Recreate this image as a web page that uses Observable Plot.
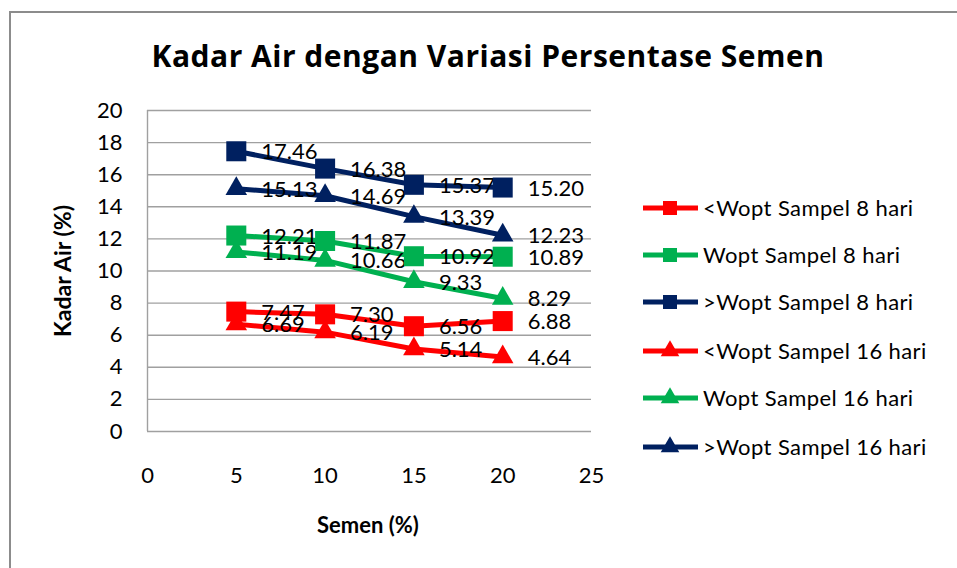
<!DOCTYPE html>
<html>
<head>
<meta charset="utf-8">
<script src="https://cdn.jsdelivr.net/npm/d3@7"></script>
<script src="https://cdn.jsdelivr.net/npm/@observablehq/plot@0.6"></script>
<style>
  html, body { margin:0; padding:0; background:#fff; }
  #wrap { position:relative; width:957px; height:568px; overflow:hidden; font-family: Lato, "Open Sans", sans-serif; }
  #frame { position:absolute; left:9px; top:11px; width:960px; height:570px; border-left:2px solid #8c8c8c; border-top:2px solid #8c8c8c; }
  #title { position:absolute; left:0; width:976px; top:35px; text-align:center; font-weight:bold; font-size:30px; letter-spacing:0.5px; color:#000; font-family:"Open Sans", Lato, sans-serif; }
  #xtitle { position:absolute; left:268px; width:200px; top:511px; text-align:center; font-weight:bold; font-size:22px; white-space:nowrap; }
  #ytitle { position:absolute; left:62px; top:271px; transform:translate(-50%,-50%) rotate(-90deg); font-weight:bold; font-size:23px; white-space:nowrap; }
  #chart { position:absolute; left:0; top:0; }
  #legend { position:absolute; left:0; top:0; }
</style>
</head>
<body>
<div id="wrap">
  <div id="frame"></div>
  <div id="chart"></div>
  <div id="legend"></div>
  <div id="title">Kadar Air dengan Variasi Persentase Semen</div>
  <div id="xtitle">Semen (%)</div>
  <div id="ytitle">Kadar Air (%)</div>
</div>
<script>
const semen = [5, 10, 15, 20];
const seriesNames = [
  "<Wopt Sampel 8 hari",
  "Wopt Sampel 8 hari",
  ">Wopt Sampel 8 hari",
  "<Wopt Sampel 16 hari",
  "Wopt Sampel 16 hari",
  ">Wopt Sampel 16 hari"
];
const seriesColors = ["#ff0000", "#00b050", "#002060", "#ff0000", "#00b050", "#002060"];
const seriesSymbols = ["square", "square", "square", "triangle", "triangle", "triangle"];
const lt8 = [7.47, 7.30, 6.56, 6.88];
const opt8 = [12.21, 11.87, 10.92, 10.89];
const gt8 = [17.46, 16.38, 15.37, 15.20];
const lt16 = [6.69, 6.19, 5.14, 4.64];
const opt16 = [11.19, 10.66, 9.33, 8.29];
const gt16 = [15.13, 14.69, 13.39, 12.23];
const seriesValues = [lt8, opt8, gt8, lt16, opt16, gt16];
const xTicks = [0, 5, 10, 15, 20, 25];
const yTicks = [0, 2, 4, 6, 8, 10, 12, 14, 16, 18, 20];

const data = [];
seriesNames.forEach((name, i) => {
  seriesValues[i].forEach((v, j) => {
    data.push({series: name, semen: semen[j], v, symbol: seriesSymbols[i], color: seriesColors[i]});
  });
});
const squares = data.filter(d => d.symbol === "square");
const triangles = data.filter(d => d.symbol === "triangle");

const chart = Plot.plot({
  width: 957,
  height: 568,
  marginLeft: 147,
  marginRight: 366,
  marginTop: 110,
  marginBottom: 137,
  style: {fontFamily: "Lato, 'Open Sans', sans-serif", background: "transparent", overflow: "visible"},
  x: {domain: [0, 25]},
  y: {domain: [0, 20]},
  marks: [
    Plot.gridY(yTicks, {stroke: "#a0a0a0", strokeOpacity: 1, strokeWidth: 1.4}),
    Plot.ruleX([0], {stroke: "#a0a0a0", strokeWidth: 1.4}),
    Plot.axisY({ticks: yTicks, tickSize: 0, tickPadding: 25, fontSize: 22, label: null, fill: "#000"}),
    Plot.axisX({ticks: xTicks, tickSize: 0, tickPadding: 36, fontSize: 22, label: null, fill: "#000"}),
    Plot.line(data, {x: "semen", y: "v", z: "series", stroke: "color", strokeWidth: 5}),
    Plot.text(data, {x: "semen", y: "v", text: d => d.v.toFixed(2), dx: 25, dy: 1, textAnchor: "start", fontSize: 22, fill: "#000"}),
    Plot.dot(squares, {x: "semen", y: "v", symbol: "square", fill: "color", r: 11.3}),
    Plot.dot(triangles, {x: "semen", y: "v", symbol: "triangle", fill: "color", r: 8})
  ]
});
document.getElementById("chart").appendChild(chart);

// Legend
const legendY = [208, 255, 302, 351, 398, 447];
const lsvg = d3.select("#legend").append("svg").attr("width", 957).attr("height", 568)
  .style("font-family", "Lato, 'Open Sans', sans-serif");
seriesNames.forEach((name, i) => {
  const g = lsvg.append("g").attr("transform", `translate(0,${legendY[i]})`);
  g.append("line").attr("x1", 643).attr("x2", 698).attr("y1", 0).attr("y2", 0)
    .attr("stroke", seriesColors[i]).attr("stroke-width", 5);
  const sym = seriesSymbols[i] === "square" ? d3.symbolSquare : d3.symbolTriangle;
  const size = seriesSymbols[i] === "square" ? 196 : 150;
  g.append("path").attr("d", d3.symbol(sym, size)()).attr("transform", "translate(670,0)").attr("fill", seriesColors[i]);
  g.append("text").attr("x", 703).attr("y", 0).attr("dy", "0.35em").attr("font-size", 22)
    .attr("letter-spacing", "0.4px").attr("fill", "#000").text(name);
});
</script>
</body>
</html>
